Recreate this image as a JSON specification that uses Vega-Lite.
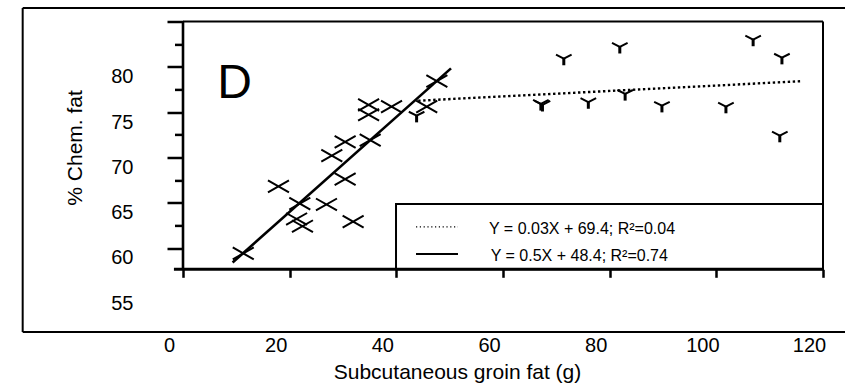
{
  "$schema": "https://vega.github.io/schema/vega-lite/v6.json",
  "width": 640,
  "height": 271.9,
  "autosize": {"type": "none"},
  "padding": {"left": 183, "top": 21.4, "right": 22, "bottom": 90.7},
  "background": "white",
  "config": {
    "view": {"stroke": null},
    "font": "Liberation Sans",
    "axis": {"grid": false, "labelColor": "black", "titleColor": "black", "tickColor": "black", "labelFont": "Liberation Sans", "titleFont": "Liberation Sans", "titleFontWeight": "normal"}
  },
  "datasets": {
    "points": [
      {"group": "X", "x": 11.3, "y": 59.4},
      {"group": "X", "x": 17.9, "y": 66.8},
      {"group": "X", "x": 21.9, "y": 64.9},
      {"group": "X", "x": 26.9, "y": 64.8},
      {"group": "X", "x": 21.3, "y": 63.2},
      {"group": "X", "x": 22.4, "y": 62.4},
      {"group": "X", "x": 31.9, "y": 62.9},
      {"group": "X", "x": 30.4, "y": 67.6},
      {"group": "X", "x": 27.9, "y": 70.2},
      {"group": "X", "x": 30.4, "y": 71.7},
      {"group": "X", "x": 35.1, "y": 71.9},
      {"group": "X", "x": 34.8, "y": 75.8},
      {"group": "X", "x": 34.8, "y": 74.7},
      {"group": "X", "x": 39.1, "y": 75.6},
      {"group": "X", "x": 45.7, "y": 75.6},
      {"group": "X", "x": 47.6, "y": 78.4},
      {"group": "Y", "x": 43.8, "y": 74.6},
      {"group": "Y", "x": 67.1, "y": 75.9},
      {"group": "Y", "x": 67.4, "y": 75.8},
      {"group": "Y", "x": 71.4, "y": 80.9},
      {"group": "Y", "x": 76.0, "y": 76.1},
      {"group": "Y", "x": 81.9, "y": 82.2},
      {"group": "Y", "x": 82.9, "y": 77.0},
      {"group": "Y", "x": 89.8, "y": 75.7},
      {"group": "Y", "x": 101.8, "y": 75.6},
      {"group": "Y", "x": 106.9, "y": 83.0},
      {"group": "Y", "x": 112.3, "y": 81.0},
      {"group": "Y", "x": 111.9, "y": 72.4}
    ],
    "fits": [
      {"fit": "dotted", "x": 44.1, "y": 76.25},
      {"fit": "dotted", "x": 115.9, "y": 78.4},
      {"fit": "solid", "x": 9.3, "y": 58.4},
      {"fit": "solid", "x": 50.25, "y": 79.82}
    ]
  },
  "layer": [
    {
      "data": {"name": "points"},
      "transform": [{"filter": "datum.group === 'X'"}],
      "mark": {"type": "point", "shape": "M-1,-0.57L1,0.57M-1,0.57L1,-0.57", "size": 441, "filled": false, "stroke": "black", "strokeWidth": 2, "opacity": 1},
      "encoding": {
        "x": {
          "field": "x", "type": "quantitative",
          "scale": {"domain": [0, 120], "nice": false, "zero": false},
          "axis": {
            "orient": "bottom", "offset": -24, "values": [0, 20, 40, 60, 80, 100, 120], "tickCount": 20,
            "domain": false, "grid": false, "ticks": true, "tickSize": 8, "tickWidth": 2.5, "tickColor": "black",
            "labelFontSize": 20, "labelColor": "black", "labelOffset": -14, "labelPadding": 67.7, "labelBaseline": "middle",
            "labelFlush": false, "labelOverlap": false, "labelBound": false,
            "title": "Subcutaneous groin fat (g)", "titleFontSize": 21, "titleFontWeight": "normal",
            "titleX": 274, "titleY": 102.7, "titleAlign": "center", "titleBaseline": "middle", "titleAngle": 0
          }
        },
        "y": {
          "field": "y", "type": "quantitative",
          "scale": {"domain": [55, 85], "nice": false, "zero": false},
          "axis": {
            "orient": "left", "values": [55, 60, 62.5, 65, 67.5, 70, 72.5, 75, 77.5, 80, 82.5, 85], "tickCount": 40,
            "domain": false, "grid": false, "tickSize": 16, "tickWidth": 2.5, "tickColor": "black",
            "tickOpacity": {"condition": {"test": "datum.value < 57", "value": 0}, "value": 1},
            "tickDash": {"condition": {"test": "datum.value % 5 !== 0", "value": [8.5, 30]}, "value": [1, 0]},
            "labelExpr": "datum.value % 5 === 0 && datum.value <= 80 ? datum.label : ''",
            "labelFontSize": 20, "labelColor": "black", "labelPadding": 34, "labelOffset": 10,
            "labelFlush": false, "labelOverlap": false, "labelBound": false,
            "title": "% Chem. fat", "titleFontSize": 21, "titleFontWeight": "normal",
            "titleX": -107.5, "titleY": 126, "titleAngle": 270, "titleAlign": "center", "titleBaseline": "middle"
          }
        }
      }
    },
    {
      "data": {"values": [{}]},
      "mark": {"type": "rule", "stroke": "black", "strokeWidth": 2},
      "encoding": {
        "x": {"datum": -30.06, "type": "quantitative", "scale": {"domain": [0, 120], "nice": false, "zero": false}},
        "y": {"datum": 50.73, "type": "quantitative", "scale": {"domain": [55, 85], "nice": false, "zero": false}},
        "y2": {"datum": 86.48}
      }
    },
    {
      "data": {"values": [{}]},
      "mark": {"type": "rule", "stroke": "black", "strokeWidth": 2},
      "encoding": {
        "x": {"datum": -30.06, "type": "quantitative", "scale": {"domain": [0, 120], "nice": false, "zero": false}},
        "x2": {"datum": 124.3},
        "y": {"datum": 86.48, "type": "quantitative", "scale": {"domain": [55, 85], "nice": false, "zero": false}}
      }
    },
    {
      "data": {"values": [{}]},
      "mark": {"type": "rule", "stroke": "black", "strokeWidth": 2},
      "encoding": {
        "x": {"datum": -30.06, "type": "quantitative", "scale": {"domain": [0, 120], "nice": false, "zero": false}},
        "x2": {"datum": 124.3},
        "y": {"datum": 50.73, "type": "quantitative", "scale": {"domain": [55, 85], "nice": false, "zero": false}}
      }
    },
    {
      "data": {"values": [{}]},
      "mark": {"type": "rect", "fill": "white", "stroke": "black", "strokeWidth": 2},
      "encoding": {
        "x": {"datum": 39.94, "type": "quantitative", "scale": {"domain": [0, 120], "nice": false, "zero": false}},
        "x2": {"datum": 120},
        "y": {"datum": 57.65, "type": "quantitative", "scale": {"domain": [55, 85], "nice": false, "zero": false}},
        "y2": {"datum": 64.85}
      }
    },
    {
      "data": {"values": [{}]},
      "mark": {"type": "rule", "stroke": "black", "strokeWidth": 2},
      "encoding": {
        "x": {"datum": 0, "type": "quantitative", "scale": {"domain": [0, 120], "nice": false, "zero": false}},
        "x2": {"datum": 120},
        "y": {"datum": 85, "type": "quantitative", "scale": {"domain": [55, 85], "nice": false, "zero": false}}
      }
    },
    {
      "data": {"values": [{}]},
      "mark": {"type": "rule", "stroke": "black", "strokeWidth": 2},
      "encoding": {
        "x": {"datum": 120, "type": "quantitative", "scale": {"domain": [0, 120], "nice": false, "zero": false}},
        "y": {"datum": 57.65, "type": "quantitative", "scale": {"domain": [55, 85], "nice": false, "zero": false}},
        "y2": {"datum": 85}
      }
    },
    {
      "data": {"values": [{}]},
      "mark": {"type": "rule", "stroke": "black", "strokeWidth": 2.6},
      "encoding": {
        "x": {"datum": 0, "type": "quantitative", "scale": {"domain": [0, 120], "nice": false, "zero": false}},
        "y": {"datum": 57.65, "type": "quantitative", "scale": {"domain": [55, 85], "nice": false, "zero": false}},
        "y2": {"datum": 85}
      }
    },
    {
      "data": {"values": [{}]},
      "mark": {"type": "rule", "stroke": "black", "strokeWidth": 3},
      "encoding": {
        "x": {"datum": -1.7, "type": "quantitative", "scale": {"domain": [0, 120], "nice": false, "zero": false}},
        "x2": {"datum": 120},
        "y": {"datum": 57.65, "type": "quantitative", "scale": {"domain": [55, 85], "nice": false, "zero": false}}
      }
    },
    {
      "data": {"name": "fits"},
      "transform": [{"filter": "datum.fit === 'dotted'"}],
      "mark": {"type": "line", "stroke": "black", "strokeWidth": 2.4, "strokeDash": [2.4, 2.6], "strokeCap": "butt"},
      "encoding": {
        "x": {"field": "x", "type": "quantitative", "scale": {"domain": [0, 120], "nice": false, "zero": false}},
        "y": {"field": "y", "type": "quantitative", "scale": {"domain": [55, 85], "nice": false, "zero": false}}
      }
    },
    {
      "data": {"name": "fits"},
      "transform": [{"filter": "datum.fit === 'solid'"}],
      "mark": {"type": "line", "stroke": "black", "strokeWidth": 2.6},
      "encoding": {
        "x": {"field": "x", "type": "quantitative", "scale": {"domain": [0, 120], "nice": false, "zero": false}},
        "y": {"field": "y", "type": "quantitative", "scale": {"domain": [55, 85], "nice": false, "zero": false}}
      }
    },
    {
      "data": {"name": "points"},
      "transform": [{"filter": "datum.group === 'Y'"}],
      "mark": {"type": "point", "shape": "M-1,-0.5L0,0L1,-0.5", "size": 243, "filled": false, "stroke": "black", "strokeWidth": 2, "opacity": 1},
      "encoding": {
        "x": {"field": "x", "type": "quantitative", "scale": {"domain": [0, 120], "nice": false, "zero": false}},
        "y": {"field": "y", "type": "quantitative", "scale": {"domain": [55, 85], "nice": false, "zero": false}}
      }
    },
    {
      "data": {"name": "points"},
      "transform": [{"filter": "datum.group === 'Y'"}],
      "mark": {"type": "point", "shape": "M0,-0.1L0,0.86", "size": 243, "filled": false, "stroke": "black", "strokeWidth": 3, "opacity": 1},
      "encoding": {
        "x": {"field": "x", "type": "quantitative", "scale": {"domain": [0, 120], "nice": false, "zero": false}},
        "y": {"field": "y", "type": "quantitative", "scale": {"domain": [55, 85], "nice": false, "zero": false}}
      }
    },
    {
      "data": {"values": [{}]},
      "mark": {"type": "text", "text": "D", "fontSize": 48, "align": "left", "baseline": "alphabetic", "color": "black", "font": "Liberation Sans"},
      "encoding": {
        "x": {"datum": 6.41, "type": "quantitative", "scale": {"domain": [0, 120], "nice": false, "zero": false}},
        "y": {"datum": 76.55, "type": "quantitative", "scale": {"domain": [55, 85], "nice": false, "zero": false}}
      }
    },
    {
      "data": {"values": [{}]},
      "mark": {"type": "rule", "stroke": "black", "strokeWidth": 1.3, "strokeDash": [1.2, 2.6], "strokeCap": "butt"},
      "encoding": {
        "x": {"datum": 43.69, "type": "quantitative", "scale": {"domain": [0, 120], "nice": false, "zero": false}},
        "x2": {"datum": 51.56},
        "y": {"datum": 62.32, "type": "quantitative", "scale": {"domain": [55, 85], "nice": false, "zero": false}}
      }
    },
    {
      "data": {"values": [{}]},
      "mark": {"type": "rule", "stroke": "black", "strokeWidth": 2},
      "encoding": {
        "x": {"datum": 43.69, "type": "quantitative", "scale": {"domain": [0, 120], "nice": false, "zero": false}},
        "x2": {"datum": 51.56},
        "y": {"datum": 59.34, "type": "quantitative", "scale": {"domain": [55, 85], "nice": false, "zero": false}}
      }
    },
    {
      "data": {"values": [{}]},
      "mark": {"type": "text", "text": "Y = 0.03X + 69.4; R²=0.04", "fontSize": 16, "align": "left", "baseline": "middle", "color": "black", "font": "Liberation Sans"},
      "encoding": {
        "x": {"datum": 57.38, "type": "quantitative", "scale": {"domain": [0, 120], "nice": false, "zero": false}},
        "y": {"datum": 62.1, "type": "quantitative", "scale": {"domain": [55, 85], "nice": false, "zero": false}}
      }
    },
    {
      "data": {"values": [{}]},
      "mark": {"type": "text", "text": "Y = 0.5X + 48.4; R²=0.74", "fontSize": 16, "align": "left", "baseline": "middle", "color": "black", "font": "Liberation Sans"},
      "encoding": {
        "x": {"datum": 57.7, "type": "quantitative", "scale": {"domain": [0, 120], "nice": false, "zero": false}},
        "y": {"datum": 59.12, "type": "quantitative", "scale": {"domain": [55, 85], "nice": false, "zero": false}}
      }
    }
  ]
}
